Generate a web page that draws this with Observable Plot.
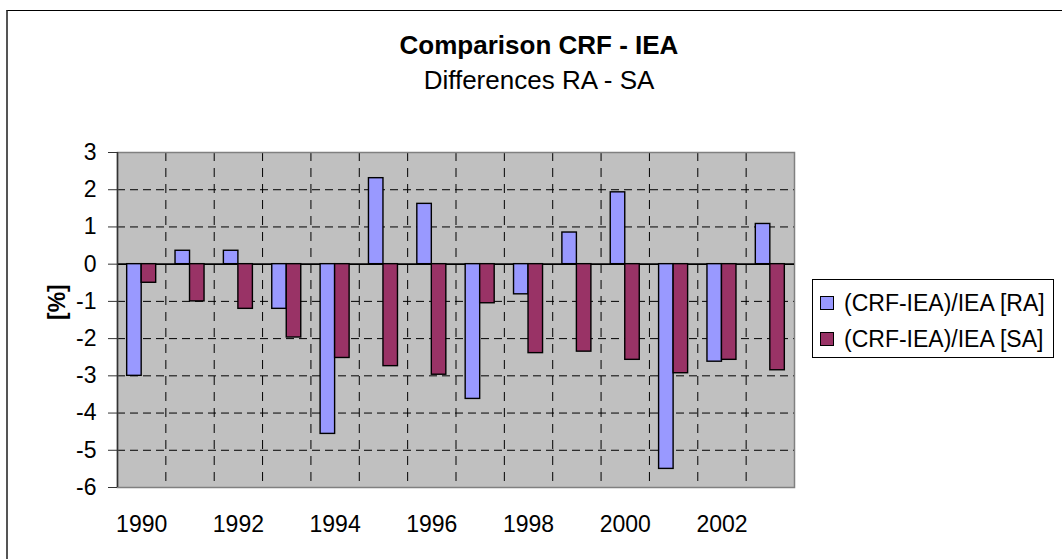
<!DOCTYPE html>
<html>
<head>
<meta charset="utf-8">
<script src="https://cdn.jsdelivr.net/npm/d3@7"></script>
<script src="https://cdn.jsdelivr.net/npm/@observablehq/plot@0.6"></script>
<style>
  html, body { margin: 0; padding: 0; background: #fff; overflow: hidden; }
  #wrap { position: relative; width: 1062px; height: 559px; font-family: 'Liberation Sans', Arial, sans-serif; }
  #wrap svg { position: absolute; left: 0; top: 0; }
  #frame { position: absolute; left: 6px; top: 10px; width: 1100px; height: 600px; border-top: 1px solid #000; border-left: 2px solid #555; box-sizing: border-box; }
  #title { position: absolute; left: 289px; top: 28px; width: 500px; text-align: center; font-size: 26px; line-height: 35px; color: #000; }
  #title .t { font-weight: bold; }
  #legend { position: absolute; left: 812px; top: 279px; width: 242px; height: 79px; border: 1px solid #000; box-sizing: border-box; background: #fff; padding-top: 5px; }
  .row { display: flex; align-items: center; height: 36px; font-size: 23px; color: #000; white-space: nowrap; }
  .sw { width: 12px; height: 12px; border: 1px solid #000; margin-left: 7px; margin-right: 10px; flex: none; }
</style>
</head>
<body>
<div id="wrap">
  <div id="frame"></div>
  <div id="title"><div class="t">Comparison CRF - IEA</div><div>Differences RA - SA</div></div>
  <div id="legend"></div>
</div>
<script>
const years = [1990, 1991, 1992, 1993, 1994, 1995, 1996, 1997, 1998, 1999, 2000, 2001, 2002, 2003];
const raValues = [-3.0, 0.36, 0.36, -1.2, -4.56, 2.31, 1.62, -3.62, -0.81, 0.85, 1.93, -5.5, -2.62, 1.08];
const saValues = [-0.5, -1.0, -1.2, -1.97, -2.52, -2.74, -2.97, -1.05, -2.39, -2.35, -2.57, -2.93, -2.57, -2.85];
const seriesKeys = ["RA", "SA"];
const seriesNames = ["(CRF-IEA)/IEA [RA]", "(CRF-IEA)/IEA [SA]"];
const seriesColors = ["#9999FF", "#993366"];
const yTicks = [3, 2, 1, 0, -1, -2, -3, -4, -5, -6];
const xTickLabels = [1990, 1992, 1994, 1996, 1998, 2000, 2002];
const yLabel = "[%]";

const barWidth = 0.3; // fraction of a category
const data = [];
years.forEach((yr, i) => {
  data.push({year: yr, series: "RA", value: raValues[i]});
  data.push({year: yr, series: "SA", value: saValues[i]});
});

const xMin = years[0] - 0.5, xMax = years[years.length - 1] + 0.5;
const yMin = d3.min(yTicks), yMax = d3.max(yTicks);
const gridY = yTicks.filter(v => v !== 0 && v !== yMin && v !== yMax);
const gridX = years.slice(1).map(y => y - 0.5);

const chart = Plot.plot({
  width: 1062,
  height: 559,
  marginLeft: 117,
  marginRight: 268,
  marginTop: 152,
  marginBottom: 72,
  x: {type: "linear", domain: [xMin, xMax]},
  y: {domain: [yMin, yMax]},
  color: {domain: seriesKeys, range: seriesColors},
  style: {fontFamily: "'Liberation Sans', Arial, sans-serif", fontSize: "23px", background: "transparent", color: "#000", overflow: "visible"},
  marks: [
    Plot.frame({fill: "#C0C0C0", stroke: null}),
    Plot.ruleY(gridY, {stroke: "#000", strokeWidth: 1, strokeDasharray: "8,5"}),
    Plot.ruleX(gridX, {stroke: "#000", strokeWidth: 1, strokeDasharray: "9,7"}),
    Plot.frame({stroke: "#808080", strokeWidth: 1.5}),
    Plot.ruleY([0], {stroke: "#000", strokeWidth: 1.6}),
    Plot.rect(data, {
      x1: d => d.series === "RA" ? d.year - barWidth : d.year,
      x2: d => d.series === "RA" ? d.year : d.year + barWidth,
      y1: () => 0,
      y2: "value",
      fill: "series",
      stroke: "#000",
      strokeWidth: 1.4
    }),
    Plot.ruleX([xMin], {stroke: "#333", strokeWidth: 1.5}),
    Plot.axisY({ticks: yTicks, tickSize: 9, tickPadding: 12, tickFormat: d => String(d), stroke: "#333", label: null}),
    Plot.axisX({ticks: xTickLabels, tickSize: 0, tickPadding: 28, tickFormat: d => String(d), label: null}),
    Plot.text([yLabel], {frameAnchor: "left", dx: -60, rotate: -90, fontWeight: "bold", fontSize: 23, fill: "#000"})
  ]
});
document.getElementById("wrap").appendChild(chart);

const legend = document.getElementById("legend");
seriesNames.forEach((name, i) => {
  const row = document.createElement("div");
  row.className = "row";
  const sw = document.createElement("span");
  sw.className = "sw";
  sw.style.background = seriesColors[i];
  const label = document.createElement("span");
  label.textContent = name;
  row.appendChild(sw);
  row.appendChild(label);
  legend.appendChild(row);
});
</script>
</body>
</html>
